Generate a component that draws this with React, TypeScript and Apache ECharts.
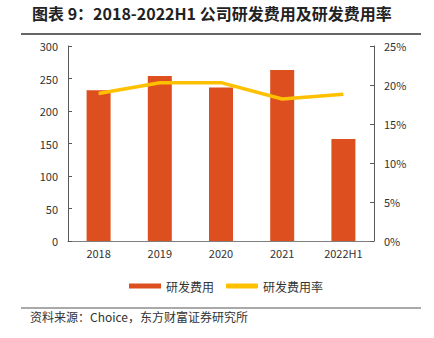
import React, { useEffect, useRef } from "react";
import * as echarts from "echarts";

const categories = ["2018", "2019", "2020", "2021", "2022H1"];
const rdExpense = [232, 254, 236, 263, 157];
const rdRate = [18.9, 20.3, 20.3, 18.2, 18.8];
const leftTicks = { min: 0, max: 300, interval: 50 };
const rightTicks = { min: 0, max: 25, interval: 5 };

const FONT = "'Noto Sans CJK SC', 'Liberation Sans', sans-serif";

export default function App() {
  const ref = useRef<HTMLDivElement>(null);
  useEffect(() => {
    if (!ref.current) return;
    const chart = echarts.init(ref.current, null, { renderer: "svg" });
    chart.setOption({
      animation: false,
      backgroundColor: "#ffffff",
      textStyle: { fontFamily: FONT },
      graphic: [
        {
          type: "text",
          left: 32,
          top: 5,
          style: {
            text: "图表 9：2018-2022H1 公司研发费用及研发费用率",
            font: `bold 16px ${FONT}`,
            fill: "#222222",
          },
        },
        {
          type: "line",
          shape: { x1: 21, y1: 34, x2: 421, y2: 34 },
          style: { stroke: "#333333", lineWidth: 1.5 },
        },
        {
          type: "line",
          shape: { x1: 21, y1: 308, x2: 421, y2: 308 },
          style: { stroke: "#555555", lineWidth: 1.2 },
        },
        {
          type: "text",
          left: 30,
          top: 310,
          style: {
            text: "资料来源：Choice，东方财富证券研究所",
            font: `12px ${FONT}`,
            fill: "#333333",
          },
        },
      ],
      legend: {
        left: 124,
        top: 275,
        itemGap: 12,
        itemWidth: 32,
        itemHeight: 5,
        textStyle: { fontSize: 12, color: "#333333", fontFamily: FONT },
        data: [
          { name: "研发费用", icon: "rect", itemStyle: { color: "#DD4F1F" } },
          { name: "研发费用率", icon: "roundRect", itemStyle: { color: "#FFC000" } },
        ],
      },
      grid: { left: 68, right: 60, top: 46, bottom: 97 },
      xAxis: {
        type: "category",
        data: categories,
        axisLine: { lineStyle: { color: "#7f7f7f" } },
        axisTick: { show: false },
        axisLabel: { color: "#333333", fontSize: 11, margin: 6 },
      },
      yAxis: [
        {
          type: "value",
          ...leftTicks,
          splitLine: { show: false },
          axisLine: { show: true, lineStyle: { color: "#595959" } },
          axisTick: { show: true, inside: true, length: 4, lineStyle: { color: "#595959" } },
          axisLabel: { color: "#333333", fontSize: 11, margin: 10 },
        },
        {
          type: "value",
          ...rightTicks,
          splitLine: { show: false },
          axisLine: { show: true, lineStyle: { color: "#595959" } },
          axisTick: { show: true, inside: true, length: 4, lineStyle: { color: "#595959" } },
          axisLabel: { color: "#333333", fontSize: 11, margin: 10, formatter: "{value}%" },
        },
      ],
      series: [
        {
          name: "研发费用",
          type: "bar",
          data: rdExpense,
          barWidth: 24,
          itemStyle: { color: "#DD4F1F" },
        },
        {
          name: "研发费用率",
          type: "line",
          yAxisIndex: 1,
          data: rdRate,
          symbol: "none",
          lineStyle: { color: "#FFC000", width: 3.5 },
          itemStyle: { color: "#FFC000" },
        },
      ],
    });
    return () => chart.dispose();
  }, []);
  return (
    <div
      ref={ref}
      style={{ position: "fixed", left: 0, top: 0, width: 434, height: 338 }}
    />
  );
}
